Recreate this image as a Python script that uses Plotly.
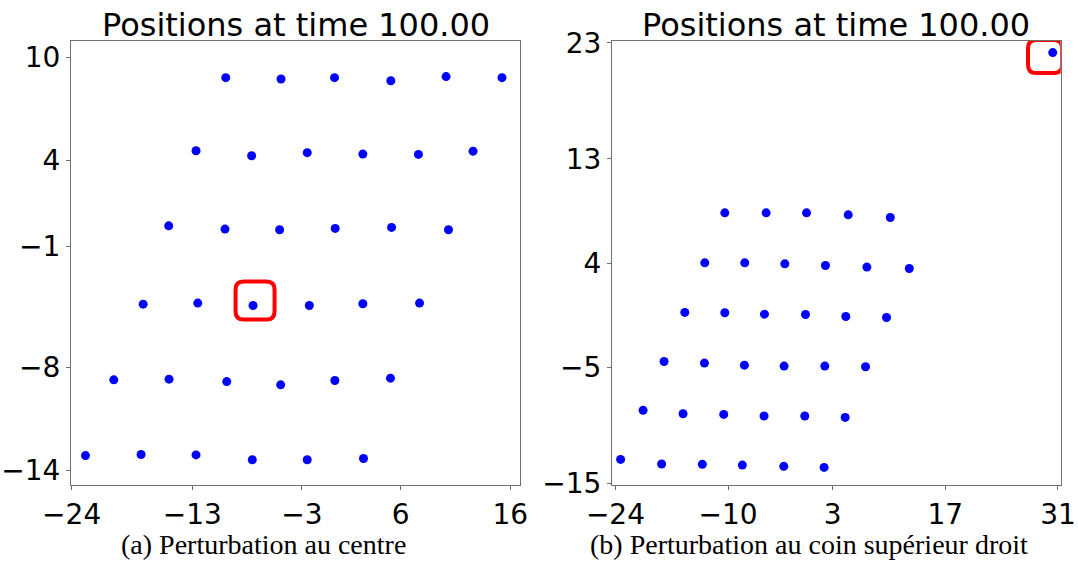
import plotly.graph_objects as go

# ---------------- data ----------------
left_x = [-9.95, -4.91, -0.03, 5.10, 10.14, 15.24,
          -12.66, -7.59, -2.52, 2.55, 7.62, 12.60,
          -15.15, -10.02, -5.04, 0.03, 5.17, 10.36,
          -17.48, -12.50, -7.46, -2.33, 2.55, 7.72,
          -20.16, -15.12, -9.86, -4.94, 0.00, 5.07,
          -22.74, -17.67, -12.66, -7.53, -2.52, 2.61]
left_y = [8.82, 8.74, 8.82, 8.64, 8.88, 8.82,
          4.57, 4.28, 4.46, 4.38, 4.36, 4.55,
          0.21, 0.02, -0.02, 0.06, 0.12, -0.02,
          -4.34, -4.28, -4.42, -4.42, -4.32, -4.28,
          -8.74, -8.70, -8.84, -9.03, -8.78, -8.64,
          -13.14, -13.08, -13.10, -13.38, -13.38, -13.31]
left_highlight = 20

right_x = [-10.41, -5.27, -0.25, 4.93, 10.16,
           -12.90, -7.93, -2.95, 2.10, 7.25, 12.52,
           -15.38, -10.41, -5.48, -0.38, 4.63, 9.69,
           -17.96, -12.94, -7.97, -3.04, 2.02, 7.08,
           -20.57, -15.60, -10.54, -5.53, -0.47, 4.55,
           -23.36, -18.26, -13.20, -8.23, -3.08, 1.93,
           30.35]
right_y = [8.34, 8.34, 8.34, 8.17, 7.94,
           4.03, 4.03, 3.94, 3.80, 3.66, 3.54,
           -0.25, -0.28, -0.40, -0.43, -0.60, -0.69,
           -4.48, -4.62, -4.80, -4.88, -4.88, -4.94,
           -8.70, -8.99, -9.05, -9.19, -9.19, -9.31,
           -12.93, -13.33, -13.36, -13.42, -13.53, -13.62,
           22.17]
right_highlight = 35

left_xticks = [-24, -13, -3, 6, 16]
left_yticks = [10, 4, -1, -8, -14]
right_xticks = [-24, -10, 3, 17, 31]
right_yticks = [23, 13, 4, -5, -15]

titles = ["Positions at time 100.00", "Positions at time 100.00"]
captions = ["(a) Perturbation au centre", "(b) Perturbation au coin supérieur droit"]

# ---------------- figure ----------------
W, H = 1078, 562
fig = go.Figure()

fig.add_trace(go.Scatter(x=left_x, y=left_y, mode="markers", xaxis="x", yaxis="y",
                         marker=dict(color="#0000ff", size=9), showlegend=False,
                         hoverinfo="skip"))
fig.add_trace(go.Scatter(x=right_x, y=right_y, mode="markers", xaxis="x2", yaxis="y2",
                         marker=dict(color="#0000ff", size=9), showlegend=False,
                         hoverinfo="skip"))


def lab(v):
    return str(v).replace("-", "\u2212")


tickfont = dict(family="DejaVu Sans", size=28, color="black")
axis_common = dict(showline=True, mirror=True, linecolor="#707070", linewidth=1,
                   ticks="outside", ticklen=4, tickwidth=1, tickcolor="#707070",
                   showgrid=False, zeroline=False, tickfont=tickfont, automargin=False)

dom_l = [71 / W, 520 / W]
dom_r = [612 / W, 1060.7 / W]
dom_y = [1 - 485 / H, 1 - 41 / H]

fig.update_layout(
    width=W, height=H, autosize=False,
    margin=dict(l=0, r=0, t=0, b=0, pad=0),
    paper_bgcolor="white", plot_bgcolor="white",
    xaxis=dict(domain=dom_l, range=[-24.06, 16.88], tickvals=left_xticks,
               ticktext=[lab(v) for v in left_xticks], anchor="y", **axis_common),
    yaxis=dict(domain=dom_y, range=[-14.85, 10.95], tickvals=left_yticks,
               ticktext=[lab(v) for v in left_yticks], anchor="x", **axis_common),
    xaxis2=dict(domain=dom_r, range=[-24.43, 31.34], tickvals=right_xticks,
                ticktext=[lab(v) for v in right_xticks], anchor="y2", **axis_common),
    yaxis2=dict(domain=dom_y, range=[-15.14, 23.17], tickvals=right_yticks,
                ticktext=[lab(v) for v in right_yticks], anchor="x2", **axis_common),
)


def rounded_path(cx, cy, w, h, r):
    return (f"M {cx-w+r},{cy+h} L {cx+w-r},{cy+h} Q {cx+w},{cy+h} {cx+w},{cy+h-r} "
            f"L {cx+w},{cy-h+r} Q {cx+w},{cy-h} {cx+w-r},{cy-h} "
            f"L {cx-w+r},{cy-h} Q {cx-w},{cy-h} {cx-w},{cy-h+r} "
            f"L {cx-w},{cy+h-r} Q {cx-w},{cy+h} {cx-w+r},{cy+h} Z")


# highlight boxes anchored on the highlighted points (pixel-sized)
fig.add_shape(type="path", xref="x", yref="y", xsizemode="pixel", ysizemode="pixel",
              xanchor=left_x[left_highlight], yanchor=left_y[left_highlight],
              path=rounded_path(2, 5, 19.5, 19, 8),
              line=dict(color="#ff0000", width=4))
fig.add_shape(type="path", xref="x2", yref="y2", xsizemode="pixel", ysizemode="pixel",
              xanchor=right_x[right_highlight], yanchor=right_y[right_highlight],
              path=rounded_path(-7.7, -4, 17, 16.5, 8),
              line=dict(color="#ff0000", width=4))

# titles
for i, dom in enumerate([dom_l, dom_r]):
    fig.add_annotation(text=titles[i], xref="paper", yref="paper",
                       x=(dom[0] + dom[1]) / 2, y=1 - 25 / H, xanchor="center", yanchor="middle",
                       showarrow=False, font=dict(family="DejaVu Sans", size=32, color="black"))

# captions
for i, cx in enumerate([263, 808.6]):
    fig.add_annotation(text=captions[i], xref="paper", yref="paper",
                       x=cx / W, y=1 - 544 / H, xanchor="center", yanchor="middle",
                       showarrow=False, font=dict(family="Liberation Serif", size=28, color="black"))

fig.write_html("out.html", config={"displayModeBar": False, "staticPlot": True},
               post_script="document.body.style.margin='0';document.body.style.overflow='hidden';")
